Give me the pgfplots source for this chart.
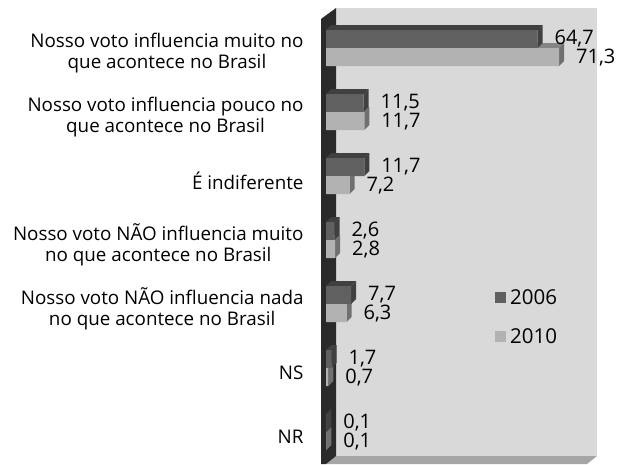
\documentclass[border=0pt]{standalone}
\usepackage{pgfplots}
\usepackage{pgfplotstable}
\pgfplotsset{compat=1.18}
\usepackage{fontspec}
\setmainfont{Open Sans}
\definecolor{wall}{HTML}{D9D9D9}
\definecolor{floorc}{HTML}{A6A6A6}
\definecolor{leftw}{HTML}{2A2A2A}
\definecolor{af}{HTML}{606060}
\definecolor{at}{HTML}{404040}
\definecolor{bf}{HTML}{B2B2B2}
\definecolor{bt}{HTML}{858585}
\definecolor{bs}{HTML}{707070}
\pgfplotstableread{
y v06 v10
0 64.7 71.3
1 11.5 11.7
2 11.7 7.2
3 2.6 2.8
4 7.7 6.3
5 1.7 0.7
6 0.1 0.1
}\data
% one bar's depth: value, top of the front face, bottom of the front face, top colour, side colour
\newcommand{\depthbar}[5]{%
  \addplot[fill=#4,draw=none,forget plot] coordinates {(0,#2) (#1,#2) (#1+1.53,#2-0.078) (1.53,#2-0.078)} --cycle;
  \addplot[fill=#5,draw=none,forget plot] coordinates {(#1,#2) (#1+1.53,#2-0.078) (#1+1.53,#3-0.078) (#1,#3)} --cycle;
}
\newcommand{\barpair}[3]{%
  \depthbar{#3}{#1}{#1+0.28125}{bt}{bs}
  \depthbar{#2}{#1-0.28125}{#1}{at}{at}
}
\pgfplotsset{valuelabels/.style={
  xbar, bar width=18pt,
  nodes near coords,
  point meta=explicit,
  every node near coord/.append style={anchor=west,font=\fontsize{20}{21}\selectfont,
     /pgf/number format/fixed, /pgf/number format/fixed zerofill, /pgf/number format/precision=1, /pgf/number format/use comma, /pgf/number format/assume math mode=true}}}
\begin{document}
\begin{tikzpicture}[x=1pt,y=1pt]
\useasboundingbox (0,0) rectangle (623,464);
\fill[wall] (336,464-8) rectangle (597,464-456);
\fill[floorc] (336,8) -- (597,8) -- (587,0) -- (326,0) -- cycle;
\fill[leftw] (321,464-19) -- (336,464-8) -- (336,8) -- (326,0) -- (321,0) -- cycle;
\begin{axis}[
  at={(326pt,0pt)}, anchor=south west,
  scale only axis, width=271pt, height=464pt,
  xmin=0, xmax=82.87, ymin=-0.75, ymax=6.5, y dir=reverse,
  clip=false,
  axis line style={draw=none},
  xtick=\empty,
  ytick={0,...,6},
  major tick length=0pt,
  tick label style={font=\fontsize{18.8}{21}\selectfont},
  yticklabels={{Nosso voto influencia muito no\\que acontece no Brasil},
    {Nosso voto influencia pouco no\\que acontece no Brasil},
    {É indiferente},
    {Nosso voto NÃO influencia muito\\no que acontece no Brasil},
    {Nosso voto NÃO influencia nada\\no que acontece no Brasil},
    {NS},{NR}},
  yticklabel style={align=center, xshift=-19pt, yshift=-5pt},
  legend style={draw=none, fill=none, at={(0.6236,0.3815)}, anchor=north west,
     font=\fontsize{20.5}{21}\selectfont, row sep=19pt, inner sep=0pt, /tikz/every even column/.append style={column sep=6pt}},
  legend cell align=left,
]
\barpair{0}{64.7}{71.3}
\barpair{1}{11.5}{11.7}
\barpair{2}{11.7}{7.2}
\barpair{3}{2.6}{2.8}
\barpair{4}{7.7}{6.3}
\barpair{5}{1.7}{0.7}
\barpair{6}{0.1}{0.1}
\addplot[valuelabels,fill=af,draw=none,bar shift=9pt,
  nodes near coords style={xshift=13.5pt,yshift=9pt},
  legend image code/.code={\fill[af] (0pt,-5.5pt) rectangle (11pt,5.5pt); \path (13pt,0pt);}]
  table[x=v06,y=y,meta=v06] {\data};
\addplot[valuelabels,fill=bf,draw=none,bar shift=-9pt,
  nodes near coords style={xshift=13.5pt,yshift=-9.5pt},
  legend image code/.code={\fill[bf] (0pt,-5.5pt) rectangle (11pt,5.5pt); \path (13pt,0pt);}]
  table[x=v10,y=y,meta=v10] {\data};
\legend{2006,2010}
\end{axis}
\end{tikzpicture}
\end{document}
